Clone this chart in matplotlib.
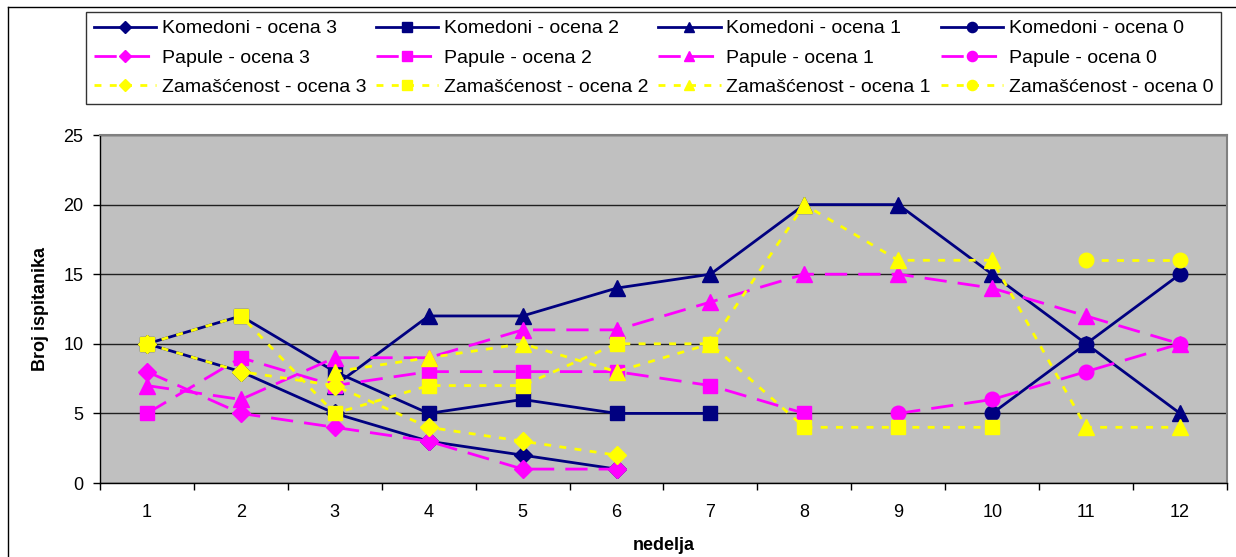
import numpy as np
import matplotlib
matplotlib.use('Agg')
import matplotlib.pyplot as plt
from matplotlib.lines import Line2D

plt.rcParams['font.family'] = ['Liberation Sans', 'DejaVu Sans']

# nedelje 1..12, None = nema podatka
weeks = list(range(1, 13))

komedoni_3 = [10, 8, 5, 3, 2, 1, None, None, None, None, None, None]
komedoni_2 = [10, 12, 8, 5, 6, 5, 5, None, None, None, None, None]
komedoni_1 = [None, None, 7, 12, 12, 14, 15, 20, 20, 15, 10, 5]
komedoni_0 = [None, None, None, None, None, None, None, None, None, 5, 10, 15]

papule_3 = [8, 5, 4, 3, 1, 1, None, None, None, None, None, None]
papule_2 = [5, 9, 7, 8, 8, 8, 7, 5, None, None, None, None]
papule_1 = [7, 6, 9, 9, 11, 11, 13, 15, 15, 14, 12, 10]
papule_0 = [None, None, None, None, None, None, None, None, 5, 6, 8, 10]

zamascenost_3 = [10, 8, 7, 4, 3, 2, None, None, None, None, None, None]
zamascenost_2 = [10, 12, 5, 7, 7, 10, 10, 4, 4, 4, None, None]
zamascenost_1 = [None, None, 8, 9, 10, 8, 10, 20, 16, 16, 4, 4]
zamascenost_0 = [None, None, None, None, None, None, None, None, None, None, 16, 16]

groups = [
    ('Komedoni', [komedoni_3, komedoni_2, komedoni_1, komedoni_0], '#000080', None),
    ('Papule', [papule_3, papule_2, papule_1, papule_0], '#FF00FF', (8, 4)),
    ('Zamašćenost', [zamascenost_3, zamascenost_2, zamascenost_1, zamascenost_0], '#FFFF00', (2.5, 3)),
]
grades = [3, 2, 1, 0]
markers = {3: ('D', 9), 2: ('s', 10), 1: ('^', 11), 0: ('o', 10.5)}

fig = plt.figure(figsize=(12.36, 5.57), dpi=100)
ax = fig.add_axes([100 / 1236, 1 - 483 / 557, 1127 / 1236, 348 / 557])
ax.set_facecolor('#C0C0C0')

handles = {}
for name, series, color, dashes in groups:
    for grade, values in zip(grades, series):
        y = np.array([np.nan if v is None else v for v in values], dtype=float)
        m, ms = markers[grade]
        line, = ax.plot(weeks, y, color=color, lw=2, marker=m, markersize=ms,
                        markerfacecolor=color, markeredgecolor=color,
                        label=f'{name} - ocena {grade}')
        if dashes is not None:
            line.set_dashes(dashes)
        handles[(name, grade)] = line

# ose
ax.set_xlim(0.5, 12.5)
ax.set_ylim(0, 25)
ax.set_xticks(np.arange(0.5, 13, 1))
ax.set_xticklabels([])
ax.set_xticks(weeks, minor=True)
ax.set_xticklabels([str(w) for w in weeks], minor=True, fontsize=13)
ax.tick_params(axis='x', which='major', direction='out', length=5, width=1)
ax.tick_params(axis='x', which='minor', length=0, pad=15)
ax.set_yticks(range(0, 26, 5))
ax.tick_params(axis='y', direction='out', length=5, width=1, labelsize=13, pad=7)

ax.grid(axis='y', color='#202020', lw=1)
ax.set_axisbelow(True)
for side in ('top', 'right'):
    ax.spines[side].set_color('#808080')
    ax.spines[side].set_linewidth(1.5)
for side in ('left', 'bottom'):
    ax.spines[side].set_color('black')
    ax.spines[side].set_linewidth(1)

ax.set_xlabel('nedelja', fontsize=13, fontweight='bold', labelpad=12)
ax.set_ylabel('Broj ispitanika', fontsize=13, fontweight='bold', labelpad=10)

# legenda: redovi po grupi, kolone po oceni
leg_handles = []
leg_labels = []
for grade in grades:
    for name, _, _, _ in groups:
        h = handles[(name, grade)]
        leg_handles.append(h)
        leg_labels.append(h.get_label())
leg = fig.legend(leg_handles, leg_labels, ncol=4, loc='upper left',
                 bbox_to_anchor=(86 / 1236, 1 - 102 / 557, 1135 / 1236, 90 / 557),
                 mode='expand', fontsize=14, frameon=True, fancybox=False,
                 edgecolor='black', handlelength=3.2, handletextpad=0.3,
                 columnspacing=0.4, labelspacing=0.6, borderpad=0.4,
                 markerscale=0.7, borderaxespad=0)
leg.get_frame().set_linewidth(1)

# okvir grafikona
fig.add_artist(Line2D([8 / 1236, 1], [1 - 7 / 557, 1 - 7 / 557], color='black', lw=1))
fig.add_artist(Line2D([8 / 1236, 8 / 1236], [0, 1 - 7 / 557], color='black', lw=1))

plt.savefig('out.png', dpi=100)
